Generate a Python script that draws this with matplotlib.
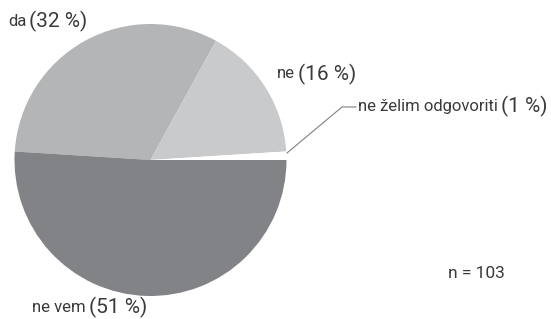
import matplotlib
matplotlib.use("Agg")
import matplotlib.pyplot as plt

categories = ["da", "ne", "ne želim odgovoriti", "ne vem"]
values = [32, 16, 1, 51]
pct_labels = ["(32 %)", "(16 %)", "(1 %)", "(51 %)"]
colors = ["#b4b5b7", "#c9cacc", "#ffffff", "#828387"]
n_label = "n = 103"

W, H = 551, 319
fig = plt.figure(figsize=(W / 100, H / 100), dpi=100)
ax = fig.add_axes([0, 0, 1, 1])

cx, cy, r = 150.5, H - 160, 136
ax.pie(values, colors=colors, startangle=176.4,
       counterclock=False, center=(cx, cy), radius=r,
       wedgeprops=dict(linewidth=0, antialiased=True))
ax.set_xlim(0, W)
ax.set_ylim(0, H)
ax.set_aspect("equal")
ax.axis("off")

fam = ["Roboto", "DejaVu Sans"]
tc = "#3a3a3a"
small, big = 12, 15

fig.canvas.draw()
renderer = fig.canvas.get_renderer()

def lab(x1, y, s1, s2, gap=3):
    t = ax.text(x1, H - y, s1, fontsize=small, color=tc, family=fam, ha="left", va="center")
    bb = t.get_window_extent(renderer=renderer)
    ax.text(bb.x1 + gap, H - y, s2, fontsize=big, color=tc, family=fam, ha="left", va="center")

lab(8, 21, categories[0], pct_labels[0])
lab(277, 74, categories[1], pct_labels[1])
lab(358, 106, categories[2], pct_labels[2])
lab(32, 307, categories[3], pct_labels[3])

ax.plot([287, 342, 356], [H - 153, H - 107, H - 107], color="#808080", lw=0.8)
ax.text(448, H - 273, n_label, fontsize=12.5, color=tc, family=fam, ha="left", va="center")

fig.savefig("out.png", dpi=100)
